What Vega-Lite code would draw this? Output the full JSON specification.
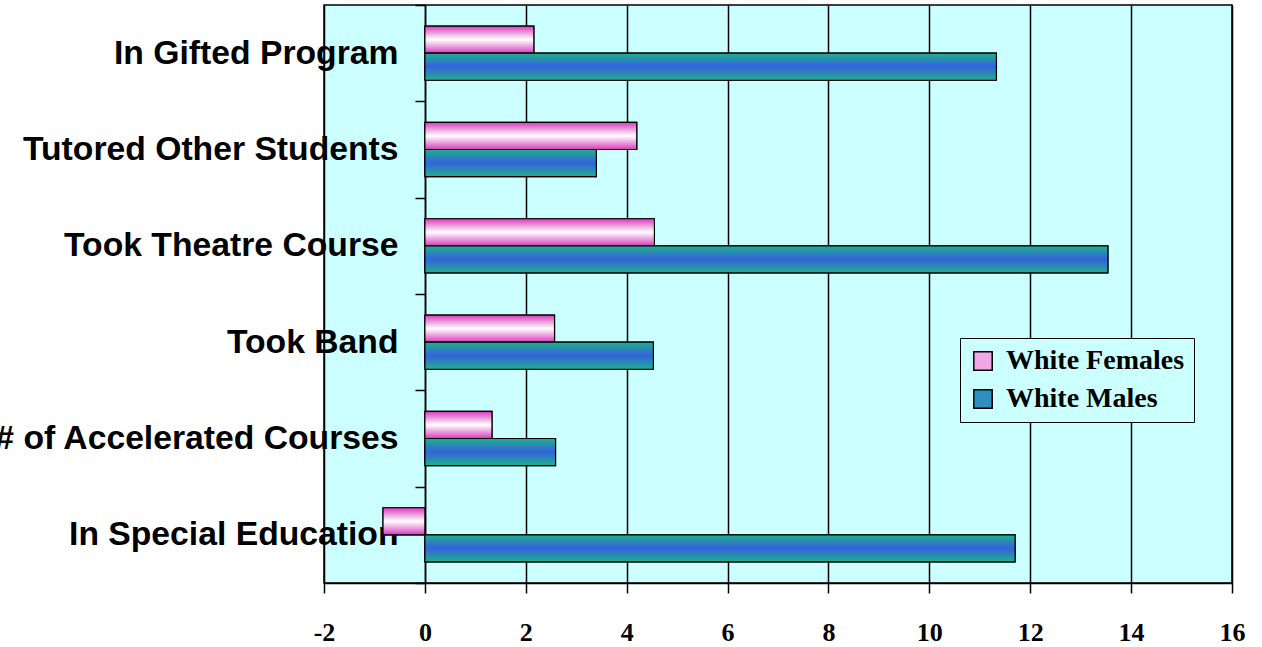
{
  "$schema": "https://vega.github.io/schema/vega-lite/v6.json",
  "autosize": {"type": "none"},
  "width": 908,
  "height": 578,
  "padding": {"left": 324, "top": 5, "right": 30, "bottom": 64},
  "background": "white",
  "config": {"view": {"fill": "#CCFFFF", "stroke": "black", "strokeWidth": 1.5}},
  "data": {"values": [
    {"category": "In Gifted Program", "series": "White Females", "value": 2.16},
    {"category": "In Gifted Program", "series": "White Males", "value": 11.33},
    {"category": "Tutored Other Students", "series": "White Females", "value": 4.2},
    {"category": "Tutored Other Students", "series": "White Males", "value": 3.4},
    {"category": "Took Theatre Course", "series": "White Females", "value": 4.55},
    {"category": "Took Theatre Course", "series": "White Males", "value": 13.54},
    {"category": "Took Band", "series": "White Females", "value": 2.57},
    {"category": "Took Band", "series": "White Males", "value": 4.53},
    {"category": "# of Accelerated Courses", "series": "White Females", "value": 1.33},
    {"category": "# of Accelerated Courses", "series": "White Males", "value": 2.59},
    {"category": "In Special Education", "series": "White Females", "value": -0.83},
    {"category": "In Special Education", "series": "White Males", "value": 11.7}
  ]},
  "encoding": {
    "y": {
      "field": "category", "type": "nominal",
      "sort": ["In Gifted Program", "Tutored Other Students", "Took Theatre Course", "Took Band", "# of Accelerated Courses", "In Special Education"],
      "scale": {"paddingInner": 0, "paddingOuter": 0},
      "axis": {"title": null, "offset": -101, "domainColor": "black", "domainWidth": 1.5, "tickColor": "black", "tickWidth": 1.5, "tickBand": "extent", "tickSize": 10, "labelFont": "Liberation Sans", "labelFontWeight": "bold", "labelFontSize": 33.7, "labelColor": "black", "labelPadding": 17, "labelLimit": 0, "labelBound": false}
    },
    "yOffset": {
      "field": "series", "type": "nominal",
      "sort": ["White Females", "White Males"],
      "scale": {"domain": ["White Females", "White Males"], "paddingOuter": 0.78, "paddingInner": 0}
    },
    "x": {
      "field": "value", "type": "quantitative",
      "scale": {"domain": [-2, 16], "nice": false, "zero": false},
      "axis": {"title": null, "values": [-2, 0, 2, 4, 6, 8, 10, 12, 14, 16], "labelExpr": "replace(datum.label, '\u2212', '-')", "grid": true, "gridColor": "black", "gridOpacity": 1, "gridWidth": 1.5, "domainColor": "black", "domainWidth": 1.5, "tickColor": "black", "tickWidth": 1.5, "tickSize": 10, "labelFont": "Liberation Serif", "labelFontWeight": "bold", "labelFontSize": 26, "labelColor": "black", "labelPadding": 26, "labelFlush": false}
    }
  },
  "layer": [
    {
      "mark": {"type": "bar", "stroke": "black", "strokeWidth": 1.2},
      "encoding": {
        "color": {
          "field": "series", "type": "nominal",
          "scale": {"domain": ["White Females", "White Males"], "range": ["#f0a8e4", "#2f8fc0"]},
          "legend": {"title": null, "orient": "none", "legendX": 636, "legendY": 333, "fillColor": "#CCFFFF", "strokeColor": "black", "padding": 9, "symbolType": "square", "symbolSize": 340, "symbolStrokeColor": "black", "symbolStrokeWidth": 1.5, "symbolOpacity": 1, "labelFont": "Liberation Serif", "labelFontWeight": "bold", "labelFontSize": 28, "labelColor": "black", "labelLimit": 0, "rowPadding": 10, "labelOffset": 9}
        }
      }
    },
    {
      "transform": [{"filter": "datum.series === 'White Females'"}],
      "mark": {"type": "bar", "stroke": "black", "strokeWidth": 1.2,
        "fill": {"gradient": "linear", "x1": 0, "y1": 0, "x2": 0, "y2": 1, "stops": [{"offset": 0, "color": "#d83cbc"}, {"offset": 0.5, "color": "#ffffff"}, {"offset": 1, "color": "#d83cbc"}]}}
    },
    {
      "transform": [{"filter": "datum.series === 'White Males'"}],
      "mark": {"type": "bar", "stroke": "black", "strokeWidth": 1.2,
        "fill": {"gradient": "linear", "x1": 0, "y1": 0, "x2": 0, "y2": 1, "stops": [{"offset": 0, "color": "#1fb08c"}, {"offset": 0.5, "color": "#3462dc"}, {"offset": 1, "color": "#1fb08c"}]}}
    }
  ]
}
